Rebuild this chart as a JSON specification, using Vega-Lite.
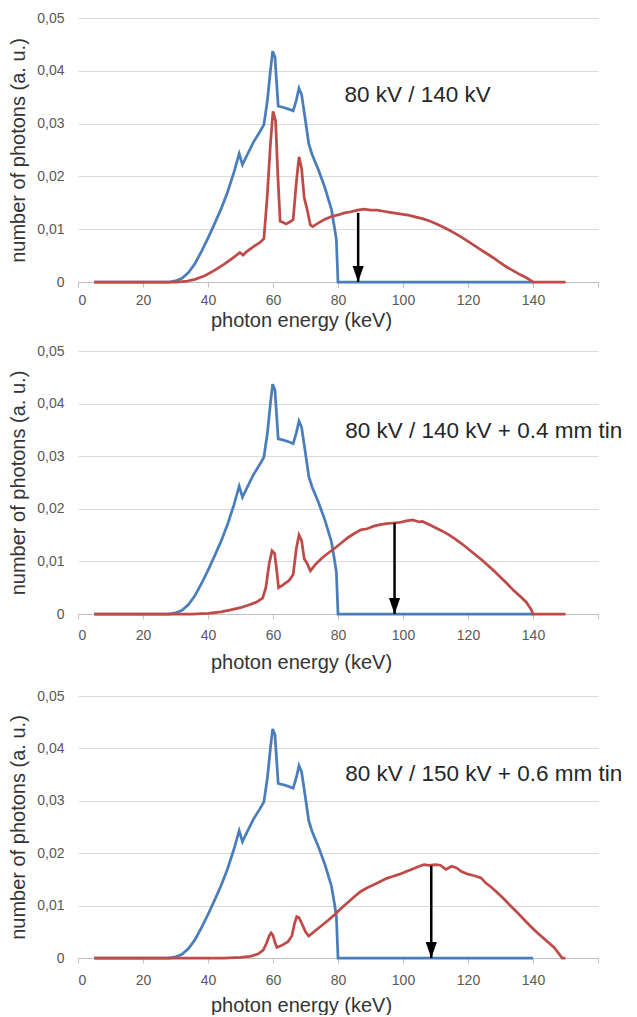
{
  "$schema": "https://vega.github.io/schema/vega-lite/v6.json",
  "background": "white",
  "padding": {"left": 8, "top": 11, "right": 0, "bottom": 0},
  "config": {
    "font": "Liberation Sans",
    "view": {"stroke": null},
    "axis": {"labelFont": "Liberation Sans", "titleFont": "Liberation Sans", "titleFontWeight": "normal"}
  },
  "datasets": {
    "blue": [
      {"E": 5, "v": 0}, {"E": 20, "v": 0}, {"E": 28, "v": 0}, {"E": 30, "v": 0.0002}, {"E": 32, "v": 0.0007},
      {"E": 34, "v": 0.0018}, {"E": 36, "v": 0.0035}, {"E": 38, "v": 0.0058}, {"E": 40, "v": 0.0083},
      {"E": 42, "v": 0.011}, {"E": 44, "v": 0.0138}, {"E": 46, "v": 0.017}, {"E": 48, "v": 0.0208},
      {"E": 49.6, "v": 0.0243}, {"E": 50.6, "v": 0.0222}, {"E": 52, "v": 0.024}, {"E": 54, "v": 0.0265},
      {"E": 56, "v": 0.0285}, {"E": 57.2, "v": 0.0298}, {"E": 58.3, "v": 0.0345}, {"E": 59.2, "v": 0.04},
      {"E": 59.9, "v": 0.0437}, {"E": 60.6, "v": 0.0426}, {"E": 61.6, "v": 0.0333}, {"E": 63, "v": 0.0331},
      {"E": 65, "v": 0.0327}, {"E": 66.2, "v": 0.0324}, {"E": 67.2, "v": 0.0345}, {"E": 68, "v": 0.0367},
      {"E": 68.8, "v": 0.0355}, {"E": 70, "v": 0.0305}, {"E": 71, "v": 0.0262}, {"E": 72, "v": 0.0242},
      {"E": 74, "v": 0.0212}, {"E": 76, "v": 0.0178}, {"E": 78, "v": 0.0137}, {"E": 79, "v": 0.01},
      {"E": 79.5, "v": 0.008}, {"E": 80, "v": 0}, {"E": 100, "v": 0}, {"E": 120, "v": 0}, {"E": 140, "v": 0}
    ],
    "red": [
      {"panel": 1, "E": 5, "v": 0}, {"panel": 1, "E": 30, "v": 0}, {"panel": 1, "E": 33, "v": 0.0001},
      {"panel": 1, "E": 36, "v": 0.0005}, {"panel": 1, "E": 39, "v": 0.0012}, {"panel": 1, "E": 42, "v": 0.0022},
      {"panel": 1, "E": 45, "v": 0.0034}, {"panel": 1, "E": 48, "v": 0.0047}, {"panel": 1, "E": 49.8, "v": 0.0056},
      {"panel": 1, "E": 50.8, "v": 0.0051}, {"panel": 1, "E": 52, "v": 0.0058}, {"panel": 1, "E": 54, "v": 0.0067},
      {"panel": 1, "E": 56, "v": 0.0075}, {"panel": 1, "E": 57.2, "v": 0.0082}, {"panel": 1, "E": 58.2, "v": 0.016},
      {"panel": 1, "E": 59.2, "v": 0.026}, {"panel": 1, "E": 60, "v": 0.0323}, {"panel": 1, "E": 60.8, "v": 0.0305},
      {"panel": 1, "E": 61.5, "v": 0.02}, {"panel": 1, "E": 62.2, "v": 0.0115}, {"panel": 1, "E": 63, "v": 0.0113},
      {"panel": 1, "E": 64, "v": 0.011}, {"panel": 1, "E": 65, "v": 0.0113}, {"panel": 1, "E": 66.2, "v": 0.0118},
      {"panel": 1, "E": 67.2, "v": 0.019}, {"panel": 1, "E": 68, "v": 0.0237}, {"panel": 1, "E": 68.8, "v": 0.0215},
      {"panel": 1, "E": 69.6, "v": 0.016}, {"panel": 1, "E": 70.4, "v": 0.014}, {"panel": 1, "E": 71.5, "v": 0.0108},
      {"panel": 1, "E": 72.2, "v": 0.0105}, {"panel": 1, "E": 74, "v": 0.0112}, {"panel": 1, "E": 76, "v": 0.0119},
      {"panel": 1, "E": 78, "v": 0.0124}, {"panel": 1, "E": 80, "v": 0.0127}, {"panel": 1, "E": 82, "v": 0.0131},
      {"panel": 1, "E": 84, "v": 0.0133}, {"panel": 1, "E": 86, "v": 0.0136}, {"panel": 1, "E": 88, "v": 0.0138},
      {"panel": 1, "E": 90, "v": 0.0136}, {"panel": 1, "E": 92, "v": 0.0136}, {"panel": 1, "E": 94, "v": 0.0134},
      {"panel": 1, "E": 96, "v": 0.0132}, {"panel": 1, "E": 98, "v": 0.013}, {"panel": 1, "E": 100, "v": 0.0128},
      {"panel": 1, "E": 102, "v": 0.0126}, {"panel": 1, "E": 104, "v": 0.0123}, {"panel": 1, "E": 106, "v": 0.012},
      {"panel": 1, "E": 108, "v": 0.0116}, {"panel": 1, "E": 110, "v": 0.0111}, {"panel": 1, "E": 112, "v": 0.0105},
      {"panel": 1, "E": 114, "v": 0.0099}, {"panel": 1, "E": 116, "v": 0.0092}, {"panel": 1, "E": 118, "v": 0.0085},
      {"panel": 1, "E": 120, "v": 0.0077}, {"panel": 1, "E": 122, "v": 0.0069}, {"panel": 1, "E": 124, "v": 0.0061},
      {"panel": 1, "E": 126, "v": 0.0053}, {"panel": 1, "E": 128, "v": 0.0045}, {"panel": 1, "E": 130, "v": 0.0036},
      {"panel": 1, "E": 132, "v": 0.0028}, {"panel": 1, "E": 134, "v": 0.0021}, {"panel": 1, "E": 136, "v": 0.0014},
      {"panel": 1, "E": 138, "v": 0.0008}, {"panel": 1, "E": 139.5, "v": 0.0002}, {"panel": 1, "E": 140, "v": 0},
      {"panel": 1, "E": 150, "v": 0},

      {"panel": 2, "E": 5, "v": 0}, {"panel": 2, "E": 35, "v": 0}, {"panel": 2, "E": 40, "v": 0.0001},
      {"panel": 2, "E": 44, "v": 0.0004}, {"panel": 2, "E": 47, "v": 0.0008}, {"panel": 2, "E": 50, "v": 0.0012},
      {"panel": 2, "E": 53, "v": 0.0018}, {"panel": 2, "E": 55, "v": 0.0023}, {"panel": 2, "E": 56.8, "v": 0.003},
      {"panel": 2, "E": 57.8, "v": 0.005}, {"panel": 2, "E": 58.8, "v": 0.0095}, {"panel": 2, "E": 59.7, "v": 0.012},
      {"panel": 2, "E": 60.5, "v": 0.0115}, {"panel": 2, "E": 61.2, "v": 0.008}, {"panel": 2, "E": 61.7, "v": 0.005},
      {"panel": 2, "E": 63, "v": 0.0055}, {"panel": 2, "E": 65, "v": 0.0064}, {"panel": 2, "E": 66.2, "v": 0.0075},
      {"panel": 2, "E": 67.2, "v": 0.0125}, {"panel": 2, "E": 68, "v": 0.015}, {"panel": 2, "E": 68.8, "v": 0.014},
      {"panel": 2, "E": 69.6, "v": 0.0105}, {"panel": 2, "E": 70.5, "v": 0.0096}, {"panel": 2, "E": 71.5, "v": 0.0082},
      {"panel": 2, "E": 73, "v": 0.0094}, {"panel": 2, "E": 75, "v": 0.0106}, {"panel": 2, "E": 77, "v": 0.0116},
      {"panel": 2, "E": 79, "v": 0.0125}, {"panel": 2, "E": 81, "v": 0.0135}, {"panel": 2, "E": 83, "v": 0.0145},
      {"panel": 2, "E": 85, "v": 0.0153}, {"panel": 2, "E": 87, "v": 0.016}, {"panel": 2, "E": 89, "v": 0.0162},
      {"panel": 2, "E": 91, "v": 0.0167}, {"panel": 2, "E": 93, "v": 0.017}, {"panel": 2, "E": 95, "v": 0.0172},
      {"panel": 2, "E": 97, "v": 0.0173}, {"panel": 2, "E": 99, "v": 0.0174}, {"panel": 2, "E": 101, "v": 0.0177},
      {"panel": 2, "E": 103, "v": 0.0179}, {"panel": 2, "E": 105, "v": 0.0175}, {"panel": 2, "E": 106, "v": 0.0176},
      {"panel": 2, "E": 108, "v": 0.017}, {"panel": 2, "E": 110, "v": 0.0164}, {"panel": 2, "E": 112, "v": 0.0158},
      {"panel": 2, "E": 114, "v": 0.0151}, {"panel": 2, "E": 116, "v": 0.0143}, {"panel": 2, "E": 118, "v": 0.0134},
      {"panel": 2, "E": 120, "v": 0.0124}, {"panel": 2, "E": 122, "v": 0.0114}, {"panel": 2, "E": 124, "v": 0.0104},
      {"panel": 2, "E": 126, "v": 0.0093}, {"panel": 2, "E": 128, "v": 0.0082}, {"panel": 2, "E": 130, "v": 0.007},
      {"panel": 2, "E": 132, "v": 0.0058}, {"panel": 2, "E": 134, "v": 0.0045}, {"panel": 2, "E": 136, "v": 0.0034},
      {"panel": 2, "E": 138, "v": 0.0022}, {"panel": 2, "E": 139.5, "v": 0.0008}, {"panel": 2, "E": 140, "v": 0},
      {"panel": 2, "E": 150, "v": 0},

      {"panel": 3, "E": 5, "v": 0}, {"panel": 3, "E": 45, "v": 0}, {"panel": 3, "E": 50, "v": 0.0001},
      {"panel": 3, "E": 53, "v": 0.0003}, {"panel": 3, "E": 55.5, "v": 0.0008}, {"panel": 3, "E": 57, "v": 0.0015},
      {"panel": 3, "E": 58, "v": 0.0028}, {"panel": 3, "E": 58.8, "v": 0.0042}, {"panel": 3, "E": 59.4, "v": 0.0048},
      {"panel": 3, "E": 60, "v": 0.0043}, {"panel": 3, "E": 60.6, "v": 0.003}, {"panel": 3, "E": 61.2, "v": 0.002},
      {"panel": 3, "E": 63, "v": 0.0025}, {"panel": 3, "E": 64.6, "v": 0.0031}, {"panel": 3, "E": 65.8, "v": 0.0042},
      {"panel": 3, "E": 66.6, "v": 0.0065}, {"panel": 3, "E": 67.3, "v": 0.0079}, {"panel": 3, "E": 68, "v": 0.0077},
      {"panel": 3, "E": 69, "v": 0.0064}, {"panel": 3, "E": 70, "v": 0.005}, {"panel": 3, "E": 71, "v": 0.0042},
      {"panel": 3, "E": 73, "v": 0.0052}, {"panel": 3, "E": 75, "v": 0.0062}, {"panel": 3, "E": 77, "v": 0.0072},
      {"panel": 3, "E": 79, "v": 0.0083}, {"panel": 3, "E": 81, "v": 0.0095}, {"panel": 3, "E": 83, "v": 0.0106},
      {"panel": 3, "E": 85, "v": 0.0117}, {"panel": 3, "E": 87, "v": 0.0127}, {"panel": 3, "E": 89, "v": 0.0134},
      {"panel": 3, "E": 91, "v": 0.014}, {"panel": 3, "E": 93, "v": 0.0146}, {"panel": 3, "E": 95, "v": 0.0152},
      {"panel": 3, "E": 97, "v": 0.0156}, {"panel": 3, "E": 99, "v": 0.016}, {"panel": 3, "E": 101, "v": 0.0165},
      {"panel": 3, "E": 103, "v": 0.017}, {"panel": 3, "E": 105, "v": 0.0175}, {"panel": 3, "E": 106.5, "v": 0.0178},
      {"panel": 3, "E": 108, "v": 0.0177}, {"panel": 3, "E": 110, "v": 0.0178}, {"panel": 3, "E": 111.5, "v": 0.0177},
      {"panel": 3, "E": 113.2, "v": 0.0169}, {"panel": 3, "E": 115, "v": 0.0175}, {"panel": 3, "E": 116.5, "v": 0.0172},
      {"panel": 3, "E": 118, "v": 0.0165}, {"panel": 3, "E": 120, "v": 0.016}, {"panel": 3, "E": 122, "v": 0.0157},
      {"panel": 3, "E": 124, "v": 0.0153}, {"panel": 3, "E": 125.5, "v": 0.0143}, {"panel": 3, "E": 127, "v": 0.0136},
      {"panel": 3, "E": 129, "v": 0.0125}, {"panel": 3, "E": 131, "v": 0.0113}, {"panel": 3, "E": 133, "v": 0.01},
      {"panel": 3, "E": 135, "v": 0.0088}, {"panel": 3, "E": 137, "v": 0.0075}, {"panel": 3, "E": 139, "v": 0.0062},
      {"panel": 3, "E": 141, "v": 0.005}, {"panel": 3, "E": 143, "v": 0.0039}, {"panel": 3, "E": 145, "v": 0.0028},
      {"panel": 3, "E": 146.5, "v": 0.002}, {"panel": 3, "E": 148, "v": 0.0008}, {"panel": 3, "E": 149, "v": 0},
      {"panel": 3, "E": 150, "v": 0}
    ],
    "arrows": [
      {"panel": 1, "E": 86.2, "top": 0.0131},
      {"panel": 2, "E": 97.4, "top": 0.0173},
      {"panel": 3, "E": 108.7, "top": 0.0176}
    ],
    "labels": [
      {"panel": 1, "E": 82, "v": 0.0341, "text": "80 kV / 140 kV"},
      {"panel": 2, "E": 82.2, "v": 0.0335, "text": "80 kV / 140 kV + 0.4 mm tin"},
      {"panel": 3, "E": 82.2, "v": 0.0338, "text": "80 kV / 150 kV + 0.6 mm tin"}
    ]
  },
  "spacing": 17,
  "vconcat": [
    {
      "spacing": 14,
      "vconcat": [
        {
          "width": 520, "height": 264,
          "layer": [
            {
              "data": {"name": "blue"},
              "mark": {"type": "line", "color": "#4a7ebb", "strokeWidth": 2.75},
              "encoding": {
                "x": {"field": "E", "type": "quantitative", "scale": {"domain": [0, 160], "nice": false},
                  "axis": {"title": "photon energy (keV)", "values": [0, 20, 40, 60, 80, 100, 120, 140, 160],
                    "labelExpr": "datum.value == 160 ? '' : datum.label", "grid": false, "domainColor": "#bfbfbf",
                    "tickColor": "#bfbfbf", "tickSize": 5, "labelPadding": 6, "labelFontSize": 14, "labelColor": "#595959",
                    "titleFontSize": 20, "titleColor": "#333333", "titleX": 223, "titleY": 38, "titleBaseline": "middle", "titleAlign": "center"}},
                "y": {"field": "v", "type": "quantitative", "scale": {"domain": [0, 0.05], "nice": false},
                  "axis": {"title": "number of photons (a. u.)", "values": [0, 0.01, 0.02, 0.03, 0.04, 0.05],
                    "labelExpr": "datum.value == 0 ? '0' : replace(format(datum.value, '.2f'), '.', ',')",
                    "grid": true, "gridColor": "#d9d9d9", "domain": false, "ticks": false, "labelPadding": 14,
                    "labelFontSize": 14, "labelColor": "#595959", "titleFontSize": 20, "titleColor": "#333333", "titlePadding": 8}}
              }
            },
            {
              "data": {"name": "red"},
              "transform": [{"filter": "datum.panel == 1"}],
              "mark": {"type": "line", "color": "#be4b48", "strokeWidth": 2.75},
              "encoding": {"x": {"field": "E", "type": "quantitative"}, "y": {"field": "v", "type": "quantitative"}}
            },
            {
              "data": {"name": "arrows"},
              "transform": [{"filter": "datum.panel == 1"}],
              "mark": {"type": "rule", "color": "black", "strokeWidth": 2.5},
              "encoding": {"x": {"field": "E", "type": "quantitative"}, "y": {"field": "top", "type": "quantitative"}, "y2": {"datum": 0}}
            },
            {
              "data": {"name": "arrows"},
              "transform": [{"filter": "datum.panel == 1"}],
              "mark": {"type": "point", "shape": "M-0.7,-1L0.7,-1L0,1Z", "filled": true, "color": "black", "opacity": 1, "size": 256, "yOffset": -8},
              "encoding": {"x": {"field": "E", "type": "quantitative"}, "y": {"datum": 0, "type": "quantitative"}}
            },
            {
              "data": {"name": "labels"},
              "transform": [{"filter": "datum.panel == 1"}],
              "mark": {"type": "text", "align": "left", "baseline": "alphabetic", "fontSize": 22.5, "font": "Liberation Sans", "color": "#262626", "limit": 288, "ellipsis": ""},
              "encoding": {"x": {"field": "E", "type": "quantitative"}, "y": {"field": "v", "type": "quantitative"}, "text": {"field": "text"}}
            }
          ]
        },
        {
          "width": 520, "height": 263,
          "layer": [
            {
              "data": {"name": "blue"},
              "mark": {"type": "line", "color": "#4a7ebb", "strokeWidth": 2.75},
              "encoding": {
                "x": {"field": "E", "type": "quantitative", "scale": {"domain": [0, 160], "nice": false},
                  "axis": {"title": "photon energy (keV)", "values": [0, 20, 40, 60, 80, 100, 120, 140, 160],
                    "labelExpr": "datum.value == 160 ? '' : datum.label", "grid": false, "domainColor": "#bfbfbf",
                    "tickColor": "#bfbfbf", "tickSize": 5, "labelPadding": 9, "labelFontSize": 14, "labelColor": "#595959",
                    "titleFontSize": 20, "titleColor": "#333333", "titleX": 223, "titleY": 48, "titleBaseline": "middle", "titleAlign": "center"}},
                "y": {"field": "v", "type": "quantitative", "scale": {"domain": [0, 0.05], "nice": false},
                  "axis": {"title": "number of photons (a. u.)", "values": [0, 0.01, 0.02, 0.03, 0.04, 0.05],
                    "labelExpr": "datum.value == 0 ? '0' : replace(format(datum.value, '.2f'), '.', ',')",
                    "grid": true, "gridColor": "#d9d9d9", "domain": false, "ticks": false, "labelPadding": 14,
                    "labelFontSize": 14, "labelColor": "#595959", "titleFontSize": 20, "titleColor": "#333333", "titlePadding": 8}}
              }
            },
            {
              "data": {"name": "red"},
              "transform": [{"filter": "datum.panel == 2"}],
              "mark": {"type": "line", "color": "#be4b48", "strokeWidth": 2.75},
              "encoding": {"x": {"field": "E", "type": "quantitative"}, "y": {"field": "v", "type": "quantitative"}}
            },
            {
              "data": {"name": "arrows"},
              "transform": [{"filter": "datum.panel == 2"}],
              "mark": {"type": "rule", "color": "black", "strokeWidth": 2.5},
              "encoding": {"x": {"field": "E", "type": "quantitative"}, "y": {"field": "top", "type": "quantitative"}, "y2": {"datum": 0}}
            },
            {
              "data": {"name": "arrows"},
              "transform": [{"filter": "datum.panel == 2"}],
              "mark": {"type": "point", "shape": "M-0.7,-1L0.7,-1L0,1Z", "filled": true, "color": "black", "opacity": 1, "size": 256, "yOffset": -8},
              "encoding": {"x": {"field": "E", "type": "quantitative"}, "y": {"datum": 0, "type": "quantitative"}}
            },
            {
              "data": {"name": "labels"},
              "transform": [{"filter": "datum.panel == 2"}],
              "mark": {"type": "text", "align": "left", "baseline": "alphabetic", "fontSize": 22.5, "font": "Liberation Sans", "color": "#262626", "limit": 288, "ellipsis": ""},
              "encoding": {"x": {"field": "E", "type": "quantitative"}, "y": {"field": "v", "type": "quantitative"}, "text": {"field": "text"}}
            }
          ]
        }
      ]
    },
    {
      "width": 520, "height": 262,
      "layer": [
        {
          "data": {"name": "blue"},
          "mark": {"type": "line", "color": "#4a7ebb", "strokeWidth": 2.75},
          "encoding": {
            "x": {"field": "E", "type": "quantitative", "scale": {"domain": [0, 160], "nice": false},
              "axis": {"title": "photon energy (keV)", "values": [0, 20, 40, 60, 80, 100, 120, 140, 160],
                "labelExpr": "datum.value == 160 ? '' : datum.label", "grid": false, "domainColor": "#bfbfbf",
                "tickColor": "#bfbfbf", "tickSize": 5, "labelPadding": 10, "labelFontSize": 14, "labelColor": "#595959",
                "titleFontSize": 20, "titleColor": "#333333", "titleX": 223, "titleY": 47, "titleBaseline": "middle", "titleAlign": "center"}},
            "y": {"field": "v", "type": "quantitative", "scale": {"domain": [0, 0.05], "nice": false},
              "axis": {"title": "number of photons (a. u.)", "values": [0, 0.01, 0.02, 0.03, 0.04, 0.05],
                "labelExpr": "datum.value == 0 ? '0' : replace(format(datum.value, '.2f'), '.', ',')",
                "grid": true, "gridColor": "#d9d9d9", "domain": false, "ticks": false, "labelPadding": 14,
                "labelFontSize": 14, "labelColor": "#595959", "titleFontSize": 20, "titleColor": "#333333", "titlePadding": 8}}
          }
        },
        {
          "data": {"name": "red"},
          "transform": [{"filter": "datum.panel == 3"}],
          "mark": {"type": "line", "color": "#be4b48", "strokeWidth": 2.75},
          "encoding": {"x": {"field": "E", "type": "quantitative"}, "y": {"field": "v", "type": "quantitative"}}
        },
        {
          "data": {"name": "arrows"},
          "transform": [{"filter": "datum.panel == 3"}],
          "mark": {"type": "rule", "color": "black", "strokeWidth": 2.5},
          "encoding": {"x": {"field": "E", "type": "quantitative"}, "y": {"field": "top", "type": "quantitative"}, "y2": {"datum": 0}}
        },
        {
          "data": {"name": "arrows"},
          "transform": [{"filter": "datum.panel == 3"}],
          "mark": {"type": "point", "shape": "M-0.7,-1L0.7,-1L0,1Z", "filled": true, "color": "black", "opacity": 1, "size": 256, "yOffset": -8},
          "encoding": {"x": {"field": "E", "type": "quantitative"}, "y": {"datum": 0, "type": "quantitative"}}
        },
        {
          "data": {"name": "labels"},
          "transform": [{"filter": "datum.panel == 3"}],
          "mark": {"type": "text", "align": "left", "baseline": "alphabetic", "fontSize": 22.5, "font": "Liberation Sans", "color": "#262626", "limit": 288, "ellipsis": ""},
          "encoding": {"x": {"field": "E", "type": "quantitative"}, "y": {"field": "v", "type": "quantitative"}, "text": {"field": "text"}}
        }
      ]
    }
  ]
}
